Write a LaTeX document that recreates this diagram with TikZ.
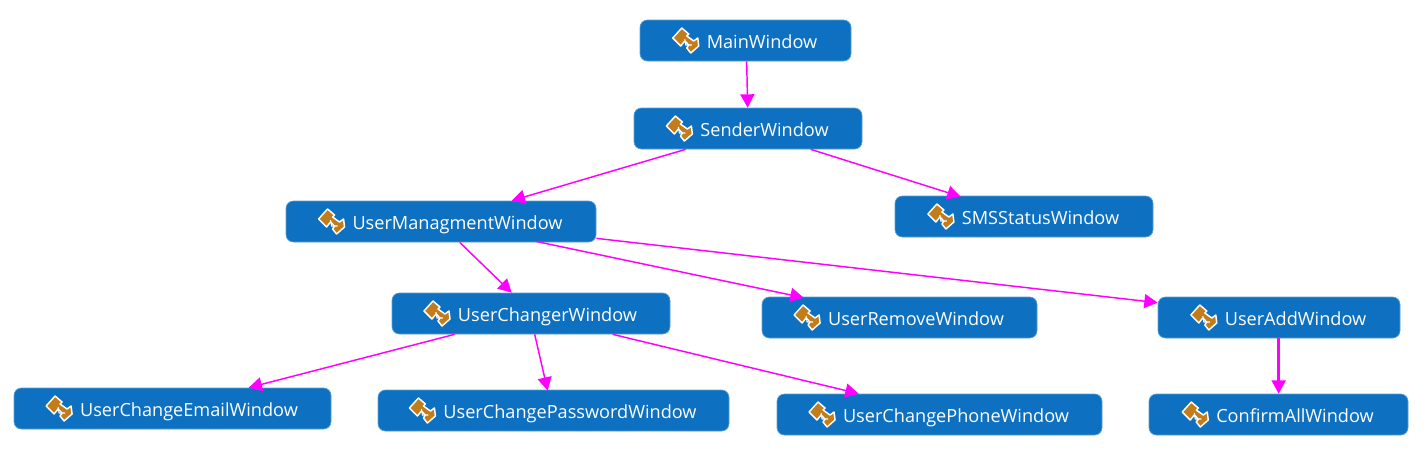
\documentclass[tikz,border=0pt]{standalone}
\usepackage{fontspec}
\setmainfont{Open Sans}
\usetikzlibrary{arrows.meta}
\definecolor{boxblue}{HTML}{0E70C0}
\definecolor{boxedge}{HTML}{5A9FD6}
\definecolor{iconorange}{HTML}{C27C1A}
\definecolor{linkmagenta}{HTML}{FF00FF}
\tikzset{
  wbox/.style={draw=boxedge,line width=0.5pt,fill=boxblue,rounded corners=5.5pt,text=white,inner sep=0pt,
    text height=14.25pt,text depth=3pt,font=\fontsize{13.6pt}{15pt}\selectfont,minimum height=30.75pt},
  link/.style={draw=linkmagenta,line width=1.1pt,-{Triangle[length=10pt,width=10.5pt]}},
  heavylink/.style={link,line width=1.8pt},
  iconpiece/.style={fill=iconorange,draw=white,line width=1.1pt,line join=round},
  wicon/.pic={
    \begin{scope}[x=0.75pt,y=-0.75pt]
      \path[iconpiece] (-13,-2) -- (-4,-12) -- (3,-6) -- (1,-4) -- (8,1) -- (12,-2) -- (13,6) -- (5,13) -- (1,8) -- (3,5) -- (-1,1) -- (-5,6) -- cycle;
      \draw[white,line width=0.8pt] (-1,-1) -- (0,5) -- (6,5);
      \draw[iconorange,line width=0.8pt] (2,-1) -- (3,3) -- (7,3);
    \end{scope}
  }
}
\newcommand{\wnode}[6]{%
  \node[wbox,minimum width=#4*0.75pt-#2*0.75pt] (#1) at ({(#2+#4)/2},{(#3+#5)/2}) {\hspace*{24.75pt}#6};
  \pic at ([shift={(12,-8)}]#1.text) {wicon};
}
\begin{document}
\begin{tikzpicture}[x=0.75pt,y=-0.75pt]
\useasboundingbox (0,0) rectangle (1427,455);
\wnode{main}{640}{20}{851}{61}{MainWindow}
\wnode{sender}{634}{108}{862}{149}{SenderWindow}
\wnode{manage}{286}{201}{596}{242}{UserManagmentWindow}
\wnode{sms}{895}{196}{1153}{237}{SMSStatusWindow}
\wnode{changer}{392}{293}{670}{334}{UserChangerWindow}
\wnode{remove}{762}{297}{1037}{338}{UserRemoveWindow}
\wnode{add}{1158}{297}{1400}{338}{UserAddWindow}
\wnode{email}{14}{388}{331}{429}{UserChangeEmailWindow}
\wnode{password}{378}{390}{729}{431}{UserChangePasswordWindow}
\wnode{phone}{777}{394}{1102}{435}{UserChangePhoneWindow}
\wnode{confirm}{1149}{394}{1408}{435}{ConfirmAllWindow}
\draw[link] ([shift={(107,0)}]main.south west) -- ([shift={(114,0)}]sender.north west);
\draw[link] ([shift={(52,0)}]sender.south west) -- ([shift={(226,0)}]manage.north west);
\draw[link] ([shift={(177,0)}]sender.south west) -- ([shift={(66,1)}]sms.north west);
\draw[link] ([shift={(174,0)}]manage.south west) -- ([shift={(120,0)}]changer.north west);
\draw[link] ([shift={(250,-1)}]manage.south west) -- ([shift={(42,1)}]remove.north west);
\draw[link] ([shift={(0,-4)}]manage.south east) -- ([shift={(0,6)}]add.north west);
\draw[link] ([shift={(63,0)}]changer.south west) -- ([shift={(235,0)}]email.north west);
\draw[link] ([shift={(143,0)}]changer.south west) -- ([shift={(170,1)}]password.north west);
\draw[link] ([shift={(221,0)}]changer.south west) -- ([shift={(82,0)}]phone.north west);
\draw[heavylink] ([shift={(121,0)}]add.south west) -- ([shift={(130,0)}]confirm.north west);
\end{tikzpicture}
\end{document}
